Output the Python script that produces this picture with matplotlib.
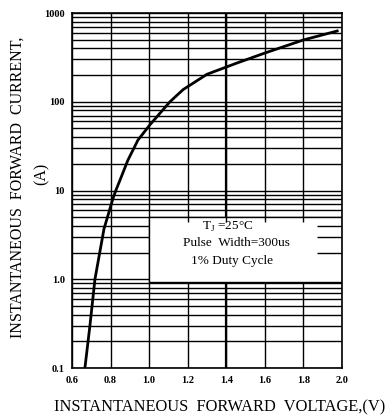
import matplotlib
matplotlib.use("Agg")
import matplotlib.pyplot as plt
from matplotlib.patches import Rectangle
from matplotlib.ticker import LogLocator, FixedLocator, NullFormatter

# forward characteristic
volts = [0.667, 0.693, 0.719, 0.766, 0.813, 0.828, 0.849, 0.89, 0.942, 1.004,
         1.108, 1.176, 1.30, 1.455, 1.6, 1.8, 1.975]
amps = [0.1, 0.3, 1.0, 3.7, 8.2, 10.1, 13.1, 22, 37, 55,
        100, 137, 204, 273, 354, 497, 627]

x_ticks = [0.6, 0.8, 1.0, 1.2, 1.4, 1.6, 1.8, 2.0]
x_labels = ["0.6", "0.8", "1.0", "1.2", "1.4", "1.6", "1.8", "2.0"]
y_ticks = [0.1, 1.0, 10, 100, 1000]
y_labels = ["0.1", "1.0", "10", "100", "1000"]

note_lines = ["T$_\\mathregular{J}$ =25°C", "Pulse  Width=300us", "1% Duty Cycle"]
note_x = [1.41, 1.455, 1.43]
note_y = [3.85, 2.55, 1.6]

plt.rcParams['font.family'] = ['Liberation Serif', 'DejaVu Serif']

fig = plt.figure(figsize=(3.86, 4.17), dpi=100)
ax = fig.add_axes([0.1865, 0.1175, 0.6995, 0.8513])

ax.set_yscale("log")
ax.set_xlim(0.6, 2.0)
ax.set_ylim(0.1, 1000)

ax.xaxis.set_major_locator(FixedLocator(x_ticks))
ax.set_xticklabels(x_labels)
ax.yaxis.set_major_locator(FixedLocator(y_ticks))
ax.set_yticklabels(y_labels)
ax.yaxis.set_minor_locator(LogLocator(base=10, subs=range(2, 10)))
ax.yaxis.set_minor_formatter(NullFormatter())
ax.tick_params(which="both", length=0, labelsize=7.5)
ax.tick_params(axis="y", pad=5)
ax.tick_params(axis="x", pad=6)
for lbl in ax.get_xticklabels() + ax.get_yticklabels():
    lbl.set_fontweight("bold")

ax.grid(True, which="major", color="black", lw=1.0)
ax.grid(True, which="minor", axis="y", color="black", lw=1.0)
ax.axvline(1.4, color="black", lw=1.6, zorder=1)
for s in ax.spines.values():
    s.set_linewidth(1.2)

# note box covering the grid
ax.add_patch(Rectangle((1.0, 0.92), 1.0, 5.0 - 0.92, facecolor="white",
                       edgecolor="black", lw=1.0, zorder=2))
ax.hlines([2, 3, 4], 1.87, 2.0, color="black", lw=1.0, zorder=2.5)
ax.vlines([1.2, 1.4, 1.6, 1.8], 4.4, 5.0, color="black", lw=1.0, zorder=2.5)
for tx, ty, line in zip(note_x, note_y, note_lines):
    ax.text(tx, ty, line, ha="center", va="center", fontsize=9.5, zorder=3)

ax.plot(volts, amps, color="black", lw=2.0, zorder=4)

ax.set_xlabel("INSTANTANEOUS  FORWARD  VOLTAGE,(V)", fontsize=11.8)
ax.xaxis.set_label_coords(0.548, -0.088)
fig.text(0.045, 0.552, "INSTANTANEOUS  FORWARD  CURRENT,", rotation=90,
         ha="center", va="center", fontsize=11.5)
fig.text(0.109, 0.583, "(A)", rotation=90, ha="center", va="center", fontsize=11.5)

fig.savefig("out.png", dpi=100)
